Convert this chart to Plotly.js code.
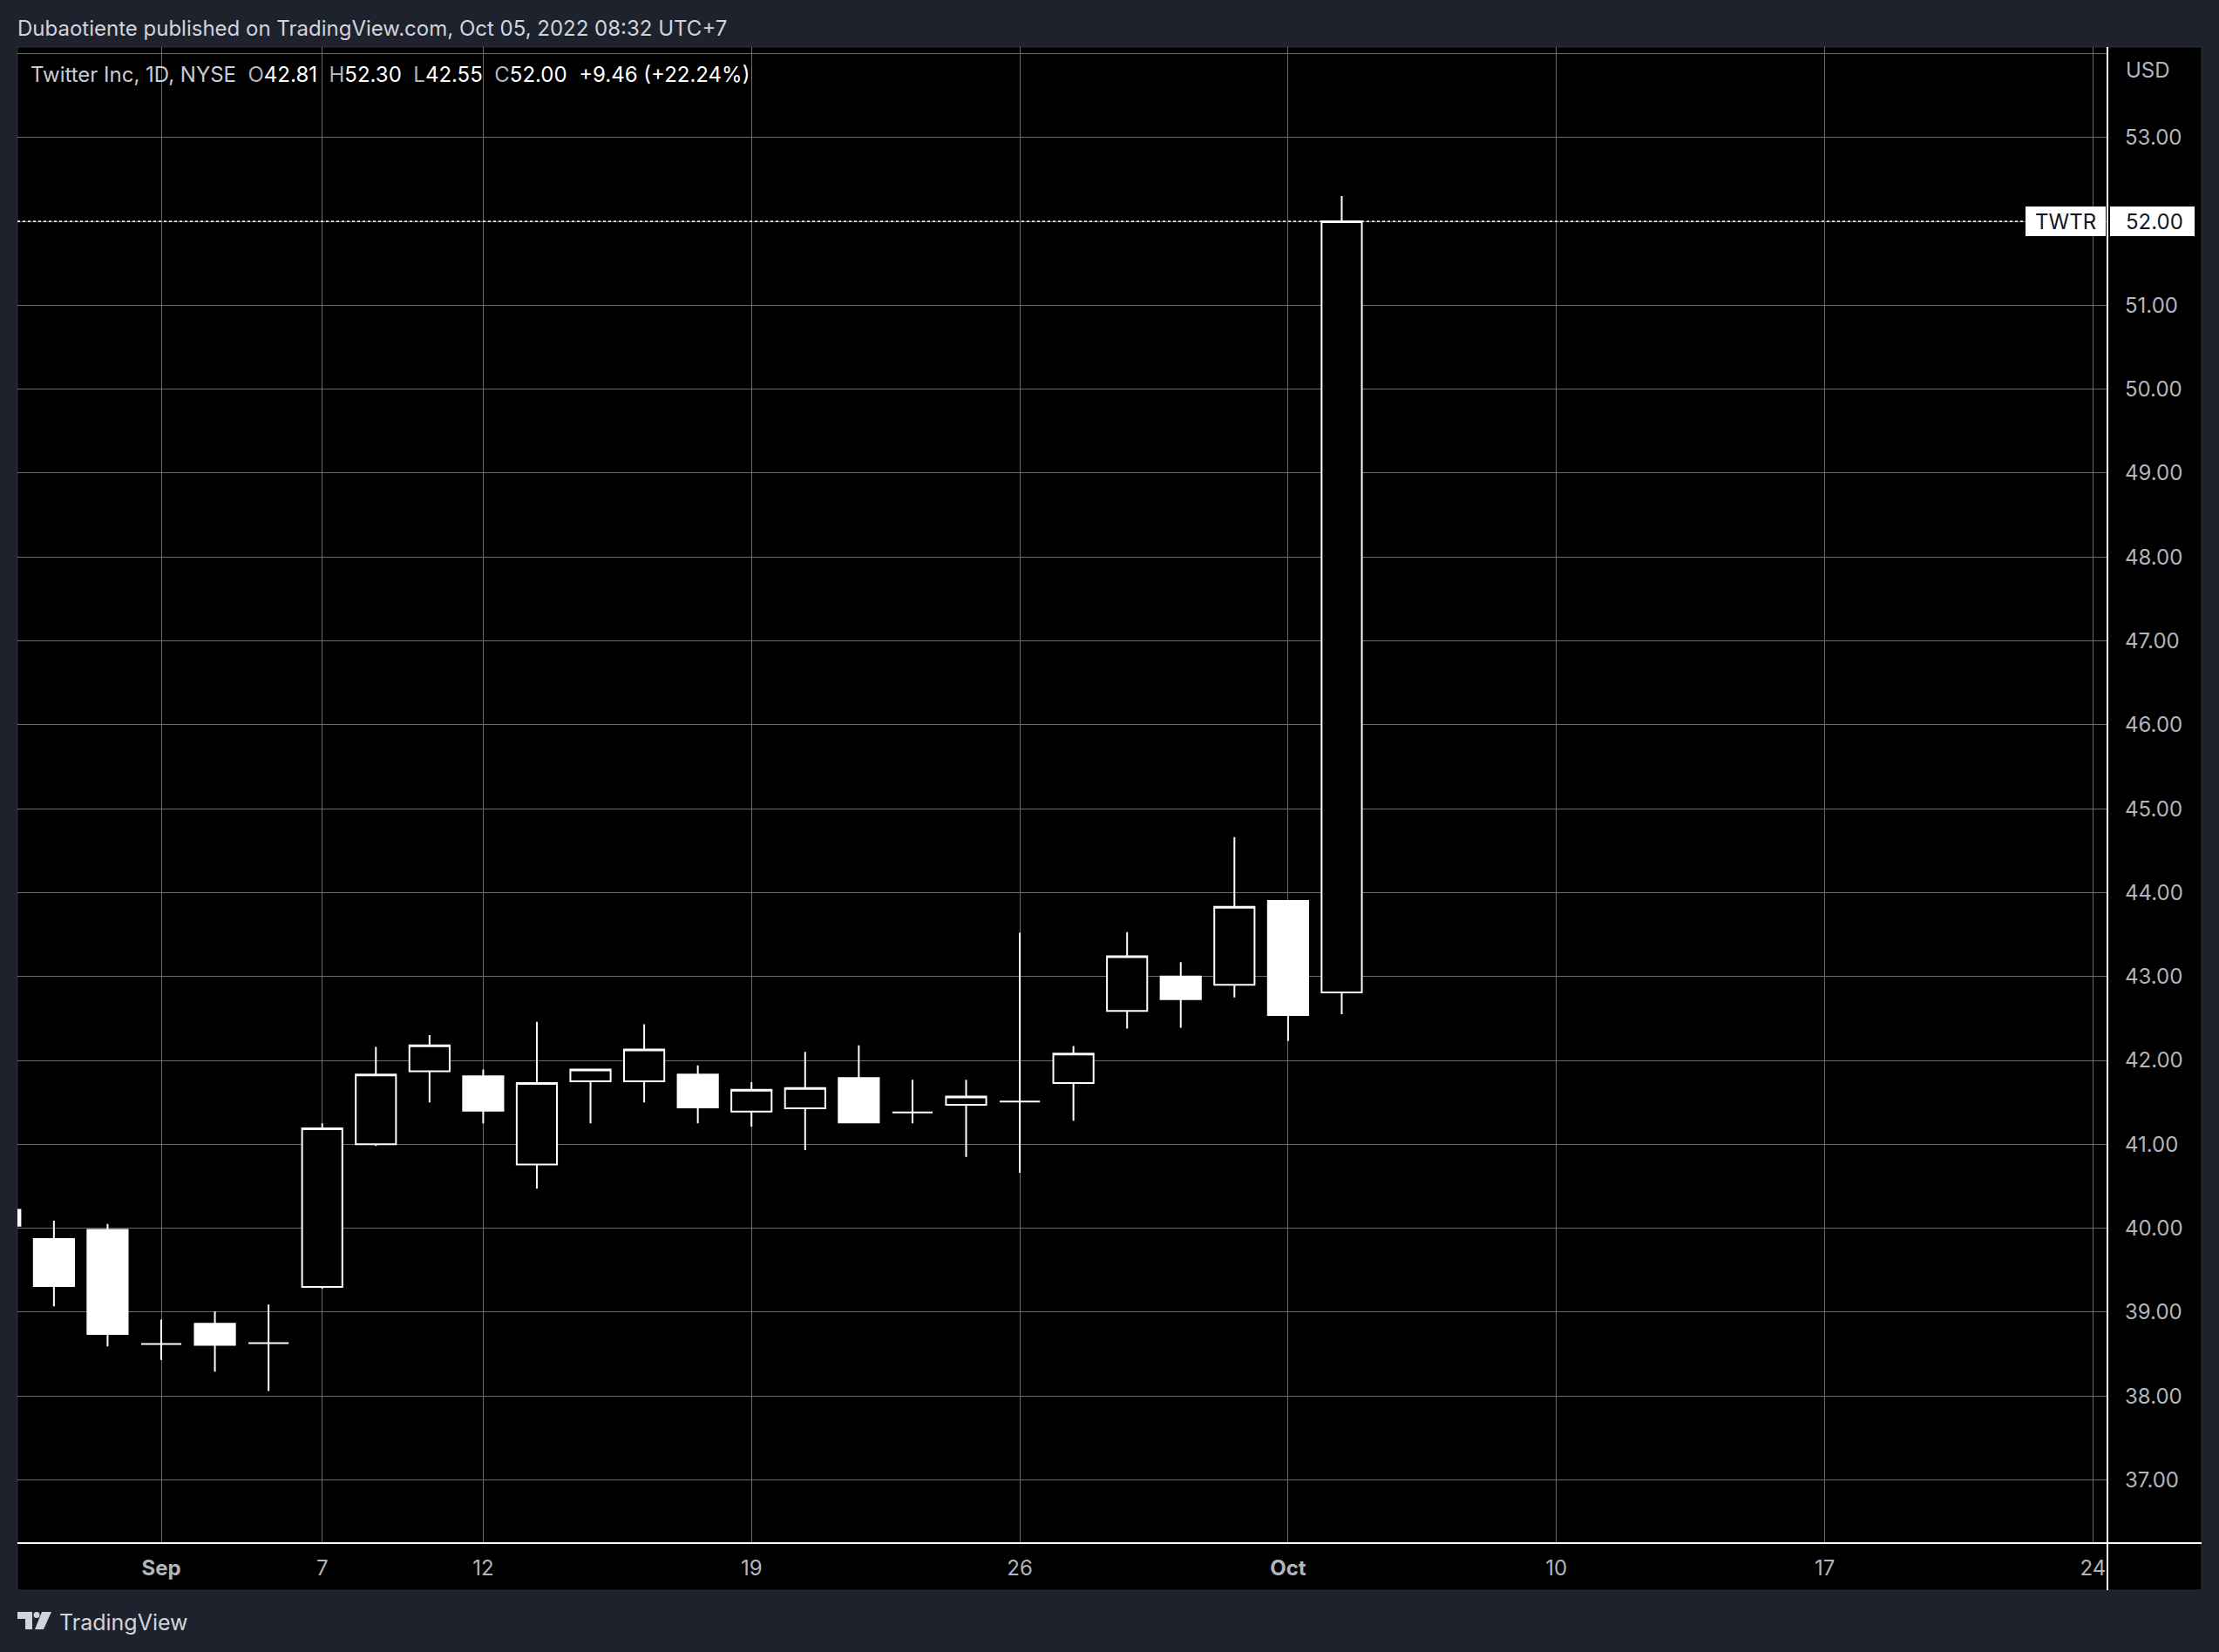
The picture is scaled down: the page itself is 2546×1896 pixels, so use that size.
<!DOCTYPE html>
<html><head><meta charset="utf-8">
<script src="https://cdn.plot.ly/plotly-3.0.1.min.js"></script>
<style>html,body{margin:0;padding:0;background:#1e222d;}</style>
</head><body><div id="chart" style="width:2546px;height:1896px;"></div>
<script>
// ---- data (TWTR daily) ----
const dates = ['2022-08-29','2022-08-30','2022-08-31','2022-09-01','2022-09-02','2022-09-06','2022-09-07','2022-09-08','2022-09-09','2022-09-12','2022-09-13','2022-09-14','2022-09-15','2022-09-16','2022-09-19','2022-09-20','2022-09-21','2022-09-22','2022-09-23','2022-09-26','2022-09-27','2022-09-28','2022-09-29','2022-09-30','2022-10-03','2022-10-04'];
const open  = [40.22, 39.87, 39.98, 38.62, 38.86, 38.63, 39.30, 41.00, 41.87, 41.81, 40.76, 41.75, 41.75, 41.83, 41.39, 41.43, 41.79, 41.38, 41.47, 41.51, 41.73, 42.59, 43.00, 42.90, 43.90, 42.81];
const high  = [40.40, 40.09, 40.05, 38.91, 39.01, 39.09, 41.25, 42.16, 42.30, 41.89, 42.46, 41.90, 42.43, 41.94, 41.74, 42.10, 42.18, 41.77, 41.77, 43.52, 42.17, 43.53, 43.17, 44.66, 43.90, 52.30];
const low   = [39.95, 39.07, 38.59, 38.43, 38.29, 38.06, 39.28, 40.98, 41.50, 41.25, 40.47, 41.25, 41.50, 41.25, 41.21, 40.93, 41.26, 41.25, 40.85, 40.66, 41.28, 42.38, 42.39, 42.75, 42.23, 42.55];
const close = [40.03, 39.31, 38.74, 38.62, 38.61, 38.63, 41.19, 41.83, 42.18, 41.40, 41.73, 41.89, 42.13, 41.44, 41.65, 41.67, 41.26, 41.38, 41.57, 41.51, 42.08, 43.24, 42.73, 43.83, 42.54, 52.00];

const tickDates  = ['2022-09-01','2022-09-07','2022-09-12','2022-09-19','2022-09-26','2022-10-03','2022-10-10','2022-10-17','2022-10-24'];
const tickLabels = ['<b>Sep</b>','7','12','19','26','<b>Oct</b>','10','17','24'];
const priceTicks = [37,38,39,40,41,42,43,44,45,46,47,48,49,50,51,52,53,54];
const priceTickLabels = ['37.00','38.00','39.00','40.00','41.00','42.00','43.00','44.00','45.00','46.00','47.00','48.00','49.00','50.00','51.00','52.00','53.00',''];

const symbol = 'TWTR';
const titleName = 'Twitter Inc, 1D, NYSE';
const header = 'Dubaotiente published on TradingView.com, Oct 05, 2022 08:32 UTC+7';

// ---- helpers ----
function tradingIndex(d) {
  const i = dates.indexOf(d);
  if (i >= 0) return i;
  let idx = dates.length - 1;
  const cur = new Date(dates[dates.length - 1] + 'T00:00:00Z');
  const target = new Date(d + 'T00:00:00Z');
  while (cur < target) {
    cur.setUTCDate(cur.getUTCDate() + 1);
    const wd = cur.getUTCDay();
    if (wd !== 0 && wd !== 6) idx++;
  }
  return idx;
}
const xIdx = dates.map((d, i) => i);
const tickVals = tickDates.map(tradingIndex);

const W = 2546, H = 1896, PL = 20, PR = 2418, PT = 54, PB = 1771;
const fx = px => (px - PL) / (PR - PL);
const fy = py => (PB - py) / (PB - PT);

const n = close.length;
const lastO = open[n-1], lastH = high[n-1], lastL = low[n-1], lastC = close[n-1];
const chg = lastC - close[n-2];
const chgPct = chg / close[n-2] * 100;
const gray = '#b2b5be';
const valc = '#ffffff';
const sp = '\u00a0\u00a0';
const legendText =
  `<span style="color:#c9ccd4">${titleName}</span>${sp}` +
  `<span style="color:${gray}">O</span><span style="color:${valc}">${lastO.toFixed(2)}</span>${sp}` +
  `<span style="color:${gray}">H</span><span style="color:${valc}">${lastH.toFixed(2)}</span>${sp}` +
  `<span style="color:${gray}">L</span><span style="color:${valc}">${lastL.toFixed(2)}</span>${sp}` +
  `<span style="color:${gray}">C</span><span style="color:${valc}">${lastC.toFixed(2)}</span>${sp}` +
  `<span style="color:${valc}">${chg >= 0 ? '+' : ''}${chg.toFixed(2)} (${chg >= 0 ? '+' : ''}${chgPct.toFixed(2)}%)</span>`;

const FONT = 'Inter, Roboto, "Noto Sans", sans-serif';

const trace = {
  type: 'candlestick',
  x: xIdx, open: open, high: high, low: low, close: close,
  increasing: {line: {color: '#ffffff', width: 2}, fillcolor: '#000000'},
  decreasing: {line: {color: '#ffffff', width: 2}, fillcolor: '#ffffff'},
  whiskerwidth: 0,
  hoverinfo: 'skip',
  showlegend: false
};

const logoColor = '#d1d4dc';
const P = (x, y) => fx(x) + ',' + fy(y);

const layout = {
  width: W, height: H,
  margin: {l: PL, r: W - PR, t: PT, b: H - PB, pad: 0},
  paper_bgcolor: '#1e222d',
  plot_bgcolor: '#000000',
  font: {family: FONT, size: 24, color: gray},
  showlegend: false,
  boxgap: 0.25, boxgroupgap: 0,
  xaxis: {
    type: 'linear',
    range: [0.32, 39.27],
    tickmode: 'array', tickvals: tickVals, ticktext: tickLabels,
    showgrid: true, gridcolor: '#6a6a6a', gridwidth: 1,
    zeroline: false, showline: false, ticks: '',
    tickfont: {family: FONT, size: 24, color: gray},
    ticklabelstandoff: 12,
    rangeslider: {visible: false},
    fixedrange: true
  },
  yaxis: {
    side: 'right',
    range: [36.247, 54.077],
    tickmode: 'array', tickvals: priceTicks, ticktext: priceTickLabels,
    showgrid: true, gridcolor: '#6a6a6a', gridwidth: 1,
    zeroline: false, showline: false, ticks: '',
    tickfont: {family: FONT, size: 24, color: gray},
    ticklabelstandoff: 19,
    fixedrange: true
  },
  shapes: [
    {type: 'rect', xref: 'paper', yref: 'paper', x0: 0, x1: fx(2526), y0: fy(1825), y1: 1,
     fillcolor: '#000000', line: {color: '#2a2e39', width: 1}, layer: 'below'},
    {type: 'line', xref: 'paper', yref: 'paper', x0: 0, x1: fx(2526), y0: 0, y1: 0,
     line: {color: '#ffffff', width: 2}},
    {type: 'line', xref: 'paper', yref: 'paper', x0: 1, x1: 1, y0: fy(1825), y1: 1,
     line: {color: '#ffffff', width: 2}},
    {type: 'line', xref: 'paper', yref: 'y', x0: 0, x1: fx(2324), y0: lastC, y1: lastC,
     line: {color: '#ffffff', width: 1.5, dash: 'dot'}},
    {type: 'rect', xref: 'paper', yref: 'y', ysizemode: 'pixel', yanchor: lastC,
     x0: fx(2324), x1: fx(2416), y0: -17, y1: 17, fillcolor: '#ffffff', line: {width: 0}},
    {type: 'rect', xref: 'paper', yref: 'y', ysizemode: 'pixel', yanchor: lastC,
     x0: fx(2421), x1: fx(2518), y0: -17, y1: 17, fillcolor: '#ffffff', line: {width: 0}},
    // TradingView logo
    {type: 'path', xref: 'paper', yref: 'paper',
     path: 'M' + P(20,1850) + ' L' + P(37,1850) + ' L' + P(37,1870) + ' L' + P(29,1870) + ' L' + P(29,1858) + ' L' + P(20,1858) + ' Z',
     fillcolor: logoColor, line: {width: 0}},
    {type: 'circle', xref: 'paper', yref: 'paper', x0: fx(38.5), x1: fx(45.5), y0: fy(1857), y1: fy(1850),
     fillcolor: logoColor, line: {width: 0}},
    {type: 'path', xref: 'paper', yref: 'paper',
     path: 'M' + P(48,1850) + ' L' + P(59,1850) + ' L' + P(50,1870) + ' L' + P(40,1870) + ' Z',
     fillcolor: logoColor, line: {width: 0}}
  ],
  annotations: [
    {xref: 'paper', yref: 'paper', x: fx(18), y: fy(32), xanchor: 'left', yanchor: 'middle',
     text: header, showarrow: false, font: {family: FONT, size: 24, color: '#d1d4dc'}},
    {xref: 'paper', yref: 'paper', x: fx(33), y: fy(85), xanchor: 'left', yanchor: 'middle',
     text: legendText, showarrow: false, font: {family: FONT, size: 24, color: gray}},
    {xref: 'paper', yref: 'paper', x: fx(2437), y: fy(81), xanchor: 'left', yanchor: 'middle',
     text: 'USD', showarrow: false, font: {family: FONT, size: 24, color: gray}},
    {xref: 'paper', yref: 'y', x: fx(2370), y: lastC, xanchor: 'center', yanchor: 'middle',
     text: symbol, showarrow: false, font: {family: FONT, size: 24, color: '#131722'}},
    {xref: 'paper', yref: 'y', x: fx(2437), y: lastC, xanchor: 'left', yanchor: 'middle',
     text: lastC.toFixed(2), showarrow: false, font: {family: FONT, size: 24, color: '#131722'}},
    {xref: 'paper', yref: 'paper', x: fx(66), y: fy(1862), xanchor: 'left', yanchor: 'middle',
     text: 'TradingView', showarrow: false, font: {family: FONT, size: 25, color: '#d1d4dc'}}
  ]
};

Plotly.newPlot('chart', [trace], layout, {displayModeBar: false, staticPlot: true});
</script>
</body></html>
